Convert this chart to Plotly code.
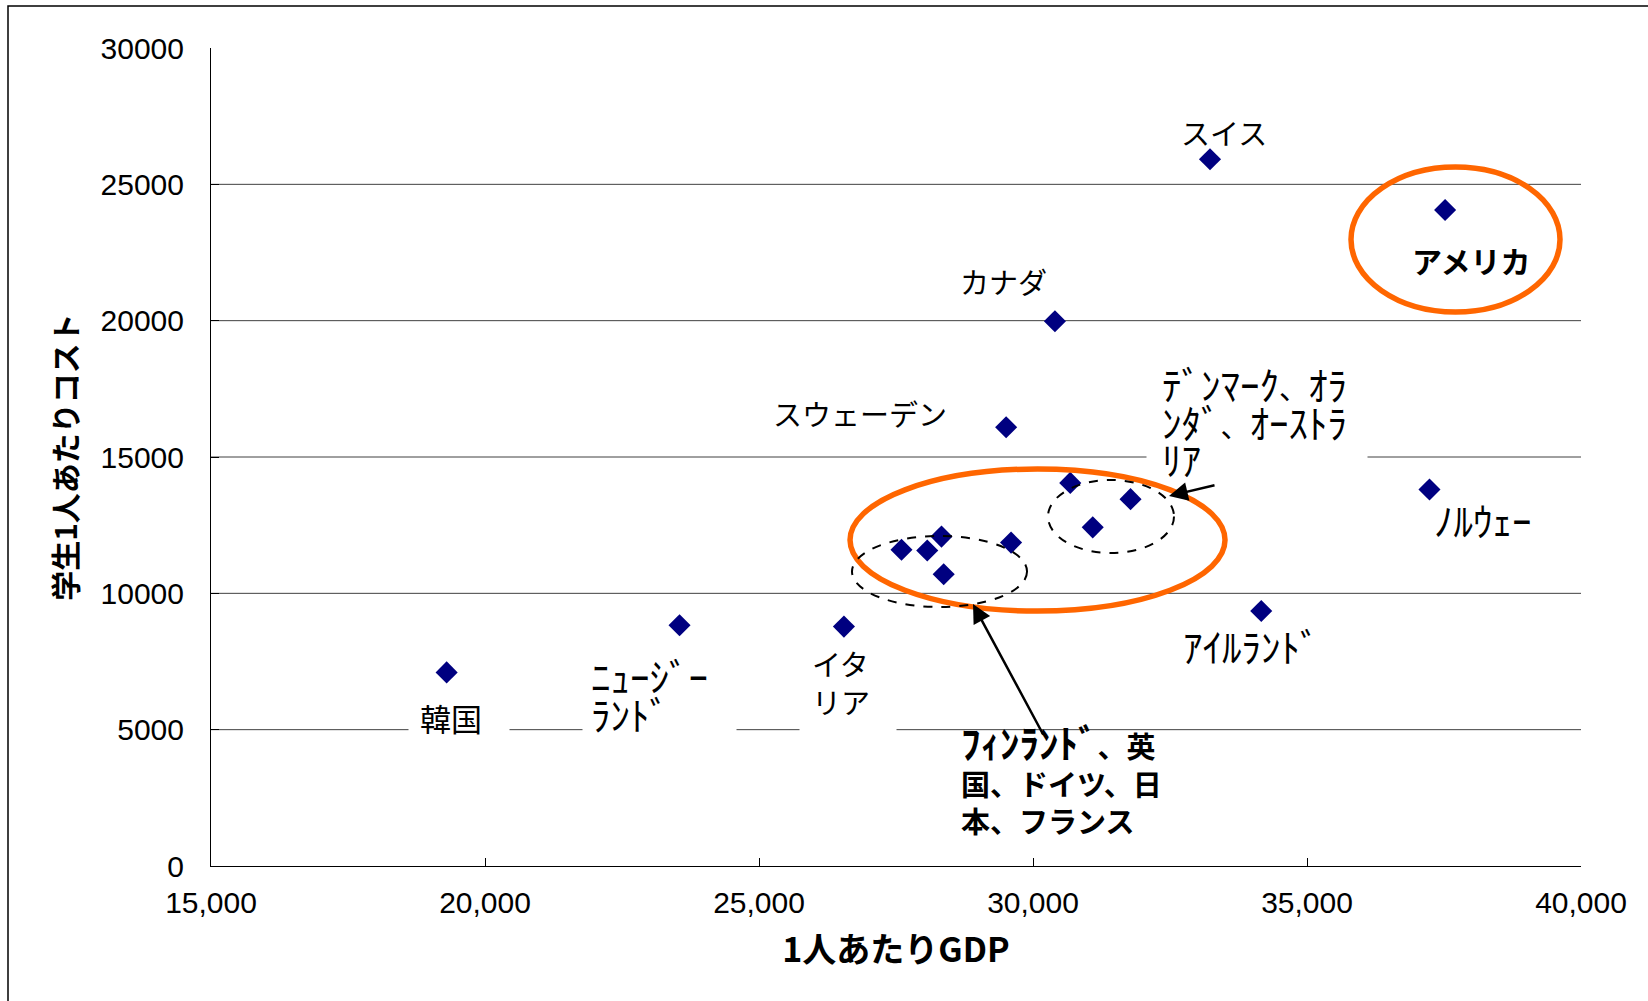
import re
import plotly.graph_objects as go

# ---------------------------------------------------------------- data ---
countries = ["韓国", "ニュージーランド", "イタリア",
             "フィンランド", "英国", "ドイツ", "フランス", "日本",
             "スウェーデン", "デンマーク", "オーストラリア", "オランダ",
             "カナダ", "スイス", "アメリカ", "ノルウェー", "アイルランド"]
gdp_per_capita = [19300, 23550, 26550,
                  27600, 28070, 28330, 28370, 29600,
                  29510, 30680, 31090, 31780,
                  30400, 33230, 37520, 37235, 34165]
cost_per_student = [7100, 8830, 8780,
                    11600, 11570, 12080, 10700, 11860,
                    16090, 14050, 12420, 13455,
                    19980, 25920, 24060, 13810, 9350]

x_ticks = [15000, 20000, 25000, 30000, 35000, 40000]
y_ticks = [0, 5000, 10000, 15000, 20000, 25000, 30000]

x_title = "1人あたりGDP"
y_title = "学生1人あたりコスト"

# ------------------------------------------------------------- styling ---
JP = "Noto Sans CJK JP"
NAVY = "#000080"
ORANGE = "#FF6600"
W, H = 1648, 1001
M = dict(l=211, r=67, t=48, b=135)
HALF_KANA_SIZE = 39


def widen_half_kana(s):
    """Render runs of half-width katakana a little larger."""
    return re.sub(r"([\uff61-\uff9f]+)",
                  rf'<span style="font-size:{HALF_KANA_SIZE}px">\1</span>', s)


# label placement relative to its point: text, dx, dy (px), anchor, size
label_specs = {
    "スイス": ("スイス", 14, 27, "center", 29),
    "アメリカ": ("<b>アメリカ</b>", 26, -50, "center", 30),
    "カナダ": ("カナダ", -51, 40, "center", 29),
    "スウェーデン": ("スウェーデン", -146, 14, "center", 29),
    "ノルウェー": ("ﾉﾙｳｪｰ", 54, -30, "center", 29),
    "アイルランド": ("ｱｲﾙﾗﾝﾄﾞ", -10, -34, "center", 29),
    "韓国": ("韓国", -29, -45, "left", 31),
    "ニュージーランド": ("ﾆｭｰｼﾞｰ<br>ﾗﾝﾄﾞ", -91, -69, "left", 29),
    "イタリア": ("イタ<br>リア", -34, -55, "left", 29),
    "オランダ": ("ﾃﾞﾝﾏｰｸ、ｵﾗ<br>ﾝﾀﾞ、ｵｰｽﾄﾗ<br>ﾘｱ", 29, 79, "left", 29),
    "フランス": ("<b>ﾌｨﾝﾗﾝﾄﾞ、英<br>国、ドイツ、日<br>本、フランス</b>", 15, -203, "left", 29),
}

# white text-box strips that break the gridline under a label:
# left edge dx, vertical dy (px from the point), width
label_boxes = {
    "韓国": (-39, -58, 100),
    "ニュージーランド": (-98, -105, 153),
    "イタリア": (-45, -103, 96),
    "オランダ": (15.5, 42, 220),
}

fig = go.Figure()

# horizontal gridlines (no line at the top tick)
for v in y_ticks[1:-1]:
    fig.add_hline(y=v, line_color="#404040", line_width=1, layer="below")

fig.add_trace(go.Scatter(
    x=gdp_per_capita, y=cost_per_student, text=countries,
    mode="markers",
    marker=dict(symbol="diamond", size=17, color=NAVY, line=dict(width=0)),
    hovertemplate="%{text}<br>%{x:,}<br>%{y}<extra></extra>",
    showlegend=False,
))

for name, (dx, dy, bw) in label_boxes.items():
    i = countries.index(name)
    fig.add_annotation(
        x=gdp_per_capita[i], y=cost_per_student[i], text=" ",
        showarrow=False, xshift=dx, yshift=dy, xanchor="left", yanchor="middle",
        bgcolor="white", borderpad=0, width=bw, height=14,
        font=dict(family=JP, size=10),
    )

# country labels
for name, (txt, dx, dy, anchor, size) in label_specs.items():
    i = countries.index(name)
    fig.add_annotation(
        x=gdp_per_capita[i], y=cost_per_student[i], text=widen_half_kana(txt),
        showarrow=False, xshift=dx, yshift=dy,
        xanchor=anchor, yanchor="middle",
        align="left" if anchor == "left" else "center",
        font=dict(family=JP, size=size, color="black"),
    )

# arrows from the group captions
arrow_style = dict(text="", showarrow=True, arrowhead=2, arrowsize=1.5,
                   arrowwidth=2.5, arrowcolor="black")
fig.add_annotation(x=28905, y=9609, ax=71, ay=132, **arrow_style)
fig.add_annotation(x=32482, y=13570, ax=47, ay=-11, **arrow_style)

# highlight rings
fig.add_shape(type="circle", xref="x", yref="y", x0=35803, x1=39617, y0=20318, y1=25636,
              line=dict(color=ORANGE, width=5.5))
fig.add_shape(type="circle", xref="x", yref="y", x0=26661, x1=33504, y0=9350, y1=14560,
              line=dict(color=ORANGE, width=5.5))
fig.add_shape(type="circle", xref="x", yref="y", x0=26697, x1=29891, y0=9499, y1=12103,
              line=dict(color="black", width=2, dash="dash"))
fig.add_shape(type="circle", xref="x", yref="y", x0=30274, x1=32573, y0=11479, y1=14156,
              line=dict(color="black", width=2, dash="dash"))

# outer chart frame
pw = W - M["l"] - M["r"]
ph = H - M["t"] - M["b"]
fig.add_shape(type="rect", xref="paper", yref="paper",
              x0=(8 - M["l"]) / pw, x1=(W + 4 - M["l"]) / pw,
              y0=(H - M["b"] - (H + 4)) / ph, y1=(H - M["b"] - 6) / ph,
              line=dict(color="black", width=1.5))

fig.update_layout(
    width=W, height=H, margin=M,
    paper_bgcolor="white", plot_bgcolor="white",
    xaxis=dict(
        range=[x_ticks[0], x_ticks[-1]], tickvals=x_ticks, tickformat=",d",
        showgrid=False, zeroline=False,
        showline=True, linecolor="black", linewidth=1,
        ticks="inside", ticklen=8, tickcolor="black",
        ticklabelstandoff=10,
        tickfont=dict(family="Liberation Sans, Arial, sans-serif", size=30, color="black"),
        title=dict(text=f"<b>{x_title}</b>", standoff=20,
                   font=dict(family=JP, size=34, color="black")),
    ),
    yaxis=dict(
        range=[y_ticks[0], y_ticks[-1]], tickvals=y_ticks, tickformat="d",
        showgrid=False, zeroline=False,
        showline=True, linecolor="black", linewidth=1,
        ticks="inside", ticklen=8, tickcolor="black",
        ticklabelstandoff=20,
        tickfont=dict(family="Liberation Sans, Arial, sans-serif", size=30, color="black"),
        title=dict(text=f"<b>{y_title}</b>", standoff=14,
                   font=dict(family=JP, size=30, color="black")),
    ),
)

fig.write_html("out.html")
